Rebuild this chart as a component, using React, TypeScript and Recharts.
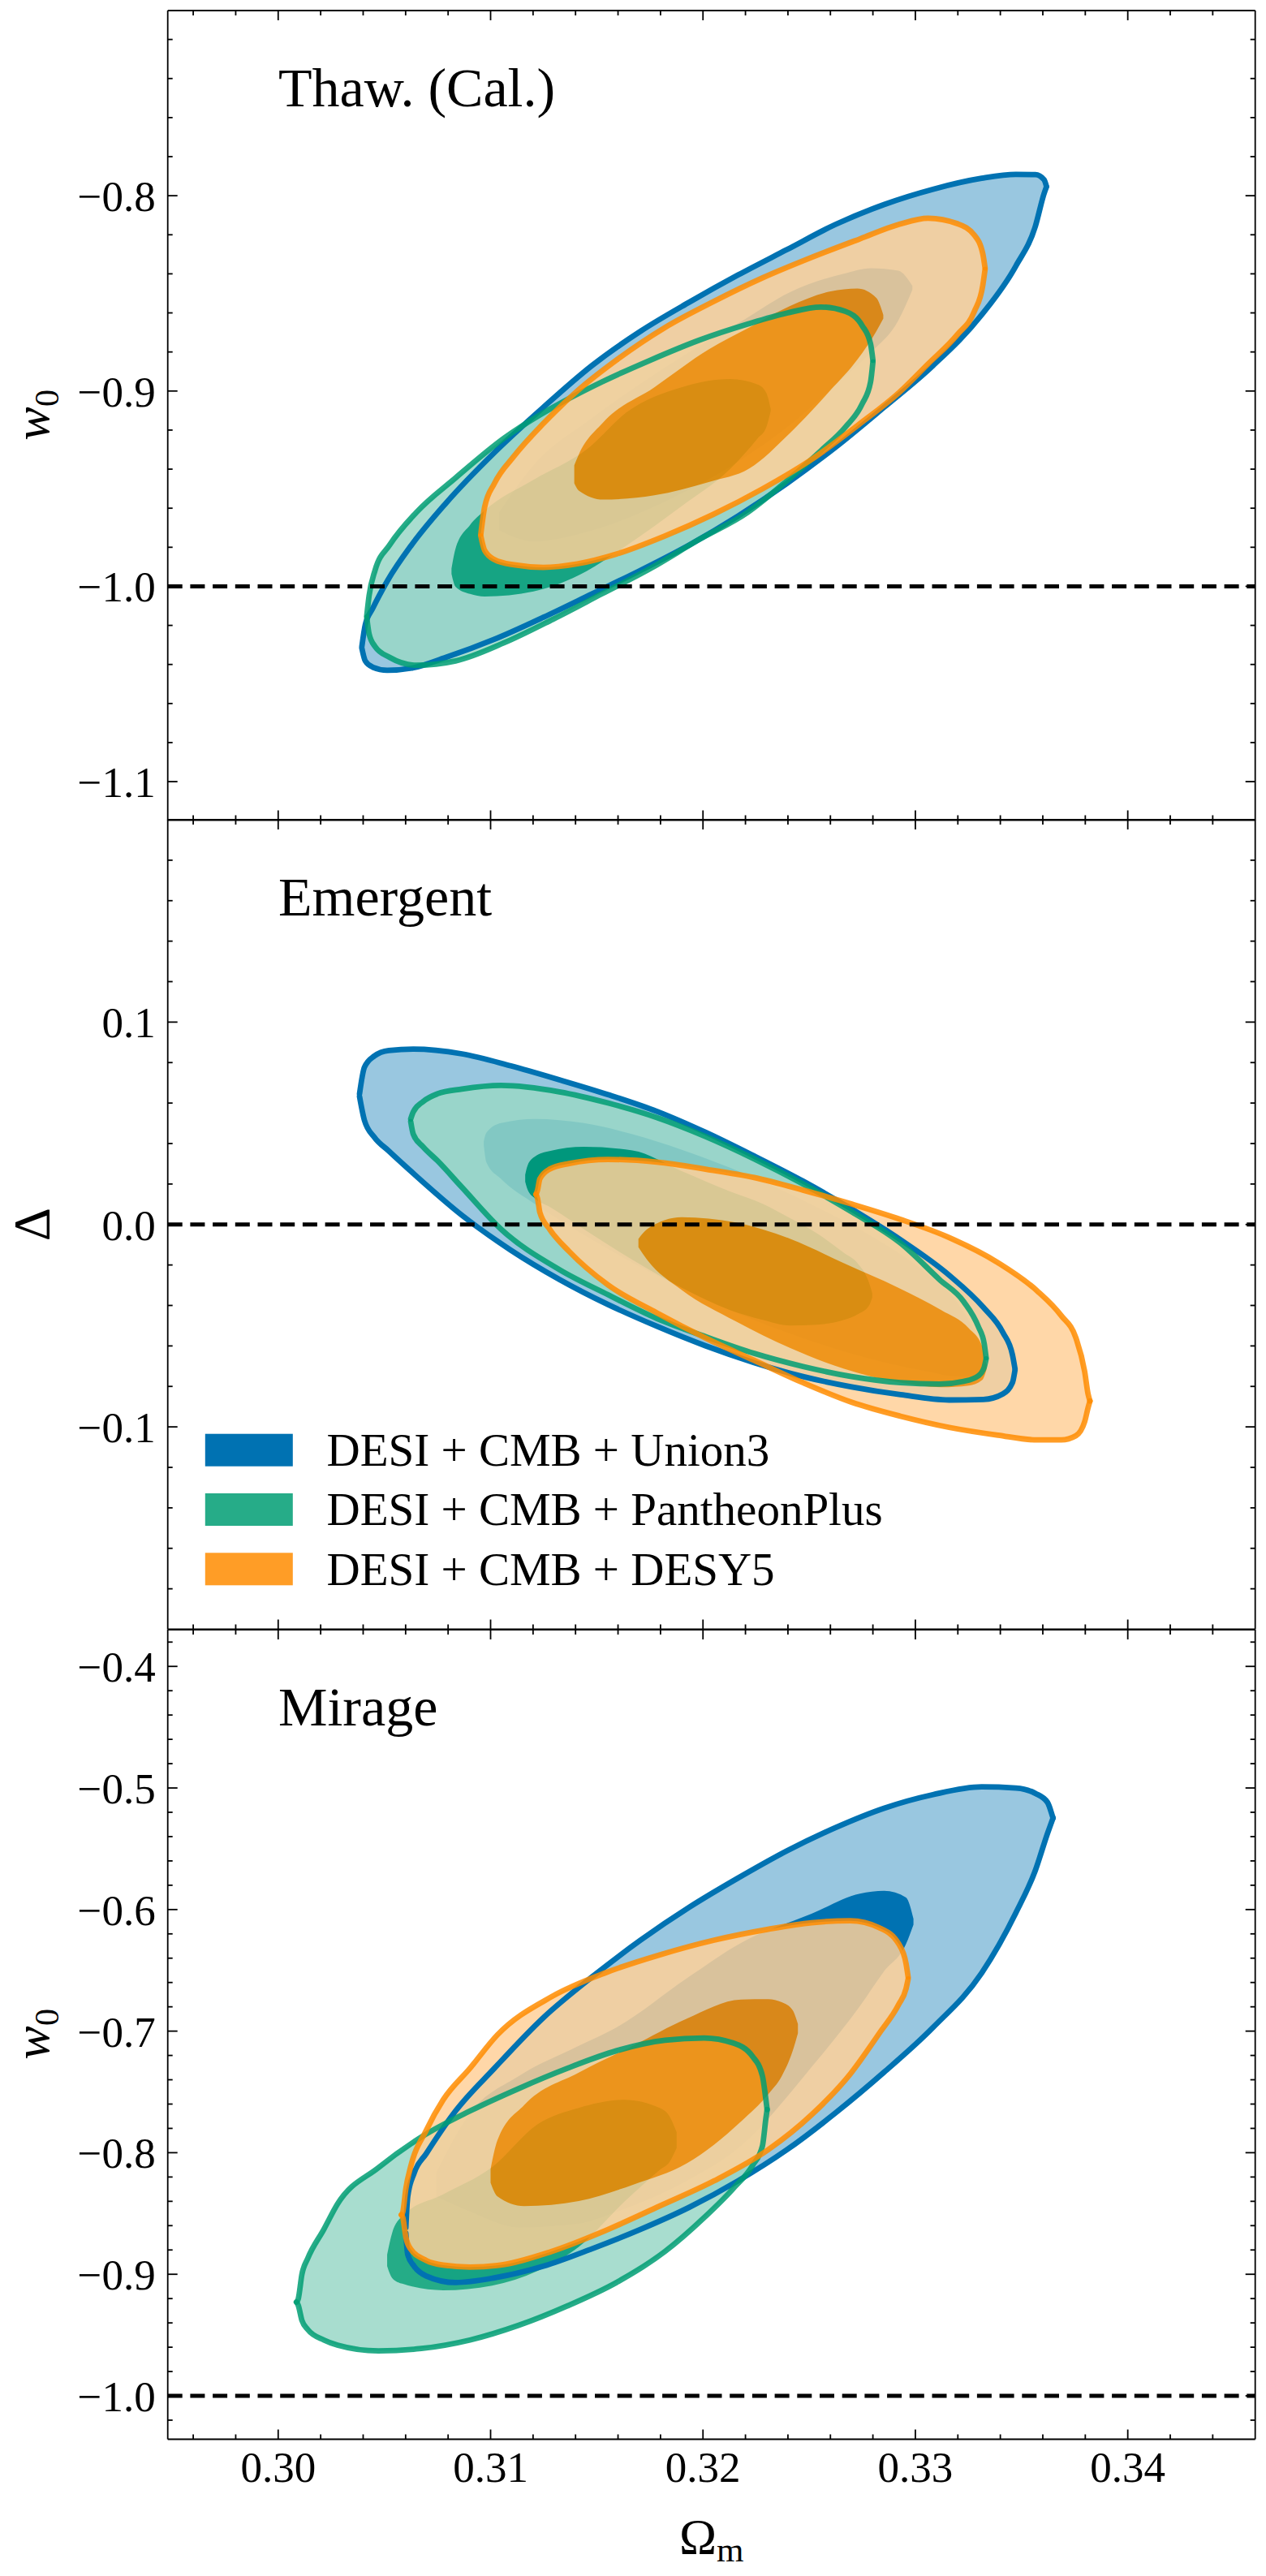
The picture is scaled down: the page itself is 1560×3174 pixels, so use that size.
import React from "react";
import { Area, ComposedChart, ReferenceLine, XAxis, YAxis } from "recharts";

// figure geometry, px
const FIG_W = 1560;
const FIG_H = 3174;
const PLOT_LEFT = 206.7;
const PLOT_RIGHT = 1546.7;
const PANEL_H = 997.5;
const PAD = 12;

const FONT = "'Liberation Serif', 'DejaVu Serif', serif";

const BLUE = "#0072B2";
const BLUE_PALE = "#99c7e0";
const GREEN = "#009E73";
const GREEN_PALE = "#99d8c7";
const ORANGE = "#FF8C00";
const ORANGE_PALE = "#ffd199";

// x axis (shared)
const X_DOMAIN: [number, number] = [0.2948, 0.346];
const X_MAJOR = [0.3, 0.31, 0.32, 0.33, 0.34];

const LEGEND_LABELS = ["DESI + CMB + Union3", "DESI + CMB + PantheonPlus", "DESI + CMB + DESY5"];
const LEGEND_COLORS = [BLUE, GREEN, ORANGE];
const LEGEND_ALPHA = [1, 0.85, 0.85];

// ---------- Thaw. (Cal.) : w0 vs Om ----------
const THAW_U3_OUT_X = [0.30394, 0.3041, 0.30445, 0.30513, 0.30628, 0.30789, 0.31018, 0.31248, 0.31477, 0.31706, 0.31936, 0.32165, 0.32395, 0.32624, 0.32853, 0.33083, 0.33312, 0.33473, 0.33565, 0.33606, 0.33617];
const THAW_U3_OUT_LO = [-1.0317, -1.0382, -1.0414, -1.043, -1.0419, -1.0364, -1.0271, -1.0159, -1.0039, -0.9918, -0.9788, -0.964, -0.9473, -0.9288, -0.9083, -0.887, -0.861, -0.836, -0.8156, -0.7989, -0.7955];
const THAW_U3_OUT_HI = [-1.0308, -1.0197, -1.0113, -0.9974, -0.9788, -0.9575, -0.9315, -0.9084, -0.887, -0.8694, -0.8545, -0.8406, -0.8276, -0.8147, -0.8045, -0.7967, -0.7911, -0.7891, -0.7892, -0.7918, -0.7952];
const THAW_U3_IN_X = [0.31041, 0.31202, 0.31477, 0.31821, 0.32193, 0.32408, 0.32663, 0.32791, 0.3292, 0.32986];
const THAW_U3_IN_LO = [-0.9714, -0.977, -0.9714, -0.9566, -0.9343, -0.9176, -0.8931, -0.8802, -0.8638, -0.8481];
const THAW_U3_IN_HI = [-0.9621, -0.938, -0.9139, -0.8879, -0.8635, -0.8495, -0.8399, -0.8371, -0.8384, -0.8462];

const THAW_PP_OUT_X = [0.30417, 0.30428, 0.30456, 0.30525, 0.30651, 0.30835, 0.31064, 0.31293, 0.31523, 0.31752, 0.31981, 0.32211, 0.32395, 0.32555, 0.3267, 0.3275, 0.32789, 0.328];
const THAW_PP_OUT_LO = [-1.0159, -1.0243, -1.0308, -1.0364, -1.0404, -1.0382, -1.0289, -1.0169, -1.0039, -0.9909, -0.9761, -0.9621, -0.946, -0.9306, -0.9185, -0.9065, -0.8954, -0.8852];
const THAW_PP_OUT_HI = [-1.015, -1.0048, -0.9918, -0.9788, -0.9621, -0.9445, -0.9241, -0.9084, -0.8954, -0.8842, -0.874, -0.8657, -0.8601, -0.857, -0.8592, -0.8666, -0.8759, -0.8842];
const THAW_PP_IN_X = [0.30816, 0.30835, 0.30903, 0.30972, 0.31202, 0.31452, 0.31644, 0.31899, 0.32128, 0.32257, 0.32298, 0.32319];
const THAW_PP_IN_LO = [-0.9937, -1.0002, -1.0039, -1.0052, -1.0026, -0.9922, -0.9788, -0.959, -0.9399, -0.9243, -0.9186, -0.9102];
const THAW_PP_IN_HI = [-0.9909, -0.9807, -0.9686, -0.9612, -0.9455, -0.9299, -0.9106, -0.8981, -0.8939, -0.8967, -0.9009, -0.9091];

const THAW_DES_OUT_X = [0.30954, 0.30972, 0.31018, 0.3111, 0.31248, 0.31408, 0.31592, 0.31821, 0.3205, 0.3228, 0.32509, 0.32739, 0.32922, 0.3306, 0.33197, 0.33278, 0.33317, 0.33328];
const THAW_DES_OUT_LO = [-0.9742, -0.9816, -0.9863, -0.989, -0.9903, -0.9885, -0.9835, -0.9742, -0.9631, -0.9501, -0.9352, -0.9167, -0.9009, -0.8861, -0.8712, -0.8592, -0.8462, -0.8378];
const THAW_DES_OUT_HI = [-0.9733, -0.9594, -0.9473, -0.9334, -0.9167, -0.9, -0.8842, -0.8675, -0.8542, -0.8421, -0.8317, -0.8221, -0.8147, -0.8115, -0.8143, -0.8202, -0.8295, -0.8369];
const THAW_DES_IN_X = [0.31394, 0.31415, 0.3153, 0.31771, 0.32027, 0.32218, 0.32408, 0.32601, 0.32727, 0.32816, 0.32849];
const THAW_DES_IN_LO = [-0.9473, -0.951, -0.9556, -0.9534, -0.9466, -0.9397, -0.9217, -0.8995, -0.8839, -0.8694, -0.8629];
const THAW_DES_IN_HI = [-0.938, -0.9326, -0.9161, -0.8981, -0.8787, -0.8675, -0.8566, -0.849, -0.8475, -0.8523, -0.861];

// ---------- Emergent : Delta vs Om ----------
const EMER_U3_OUT_X = [0.30383, 0.30406, 0.30452, 0.30521, 0.30636, 0.30865, 0.31095, 0.31324, 0.31553, 0.31783, 0.32012, 0.32241, 0.32471, 0.327, 0.3293, 0.33159, 0.3332, 0.33412, 0.33457, 0.33469];
const EMER_U3_OUT_LO = [0.06321, 0.05148, 0.04321, 0.03631, 0.02528, 0.00459, -0.01265, -0.02714, -0.03955, -0.05031, -0.05996, -0.06824, -0.07514, -0.08024, -0.0841, -0.08672, -0.08644, -0.08369, -0.07817, -0.07196];
const EMER_U3_OUT_HI = [0.06459, 0.07769, 0.08321, 0.08597, 0.08666, 0.08431, 0.07838, 0.07148, 0.06417, 0.0559, 0.04555, 0.03383, 0.02142, 0.00762, -0.00755, -0.02507, -0.04093, -0.05334, -0.06438, -0.07127];
const EMER_U3_IN_X = [0.30968, 0.3098, 0.31049, 0.31209, 0.31439, 0.31668, 0.31898, 0.32127, 0.32356, 0.32586, 0.32815, 0.33044, 0.332, 0.3329, 0.3333];
const EMER_U3_IN_LO = [0.03907, 0.0308, 0.02252, 0.01011, -0.00507, -0.01886, -0.03127, -0.04231, -0.05196, -0.06024, -0.06714, -0.0724, -0.0752, -0.0745, -0.0705];
const EMER_U3_IN_HI = [0.04114, 0.04528, 0.0501, 0.05217, 0.0501, 0.04459, 0.037, 0.02804, 0.01769, 0.00597, -0.00714, -0.0235, -0.039, -0.056, -0.068];

const EMER_PP_OUT_X = [0.30624, 0.30636, 0.30682, 0.3075, 0.30865, 0.31049, 0.31324, 0.31553, 0.31783, 0.32012, 0.32241, 0.32471, 0.327, 0.3293, 0.33113, 0.33228, 0.33297, 0.33324, 0.33333];
const EMER_PP_OUT_LO = [0.0508, 0.04459, 0.03838, 0.03149, 0.01838, -0.00231, -0.02231, -0.03472, -0.04645, -0.05541, -0.06369, -0.07017, -0.07514, -0.07817, -0.07886, -0.07748, -0.07472, -0.07058, -0.06645];
const EMER_PP_OUT_HI = [0.05217, 0.05562, 0.06073, 0.06459, 0.06693, 0.06873, 0.06555, 0.06004, 0.05286, 0.04349, 0.03245, 0.02004, 0.00624, -0.0092, -0.02714, -0.03817, -0.05058, -0.05886, -0.06576];
const EMER_PP_IN_X = [0.31163, 0.31175, 0.31209, 0.31278, 0.31439, 0.31668, 0.319, 0.32127, 0.32281, 0.32409, 0.32537, 0.32664, 0.32728, 0.32781, 0.32797];
const EMER_PP_IN_LO = [0.02114, 0.017, 0.01287, 0.00873, -0.00231, -0.01748, -0.03127, -0.04231, -0.04714, -0.04989, -0.04948, -0.04714, -0.04438, -0.04024, -0.0361];
const EMER_PP_IN_HI = [0.02459, 0.02941, 0.03355, 0.03631, 0.03838, 0.03659, 0.02638, 0.01631, 0.01024, 0.00321, -0.00438, -0.01403, -0.01914, -0.02852, -0.03403];

const EMER_DES_OUT_X = [0.31214, 0.31221, 0.31232, 0.31278, 0.3137, 0.31553, 0.31783, 0.32012, 0.32241, 0.32471, 0.327, 0.3293, 0.33159, 0.33389, 0.33572, 0.33687, 0.33756, 0.33797, 0.33813, 0.33822];
const EMER_DES_OUT_LO = [0.0149, 0.01287, 0.00597, -0.00231, -0.01334, -0.0299, -0.04369, -0.0561, -0.06714, -0.07817, -0.08782, -0.09472, -0.10024, -0.1041, -0.10645, -0.10645, -0.10438, -0.09748, -0.09058, -0.0872];
const EMER_DES_OUT_HI = [0.0149, 0.017, 0.02252, 0.02735, 0.03011, 0.03217, 0.0308, 0.02735, 0.02321, 0.017, 0.01011, 0.00252, -0.00645, -0.01886, -0.03265, -0.04507, -0.0561, -0.07265, -0.08369, -0.0872];
const EMER_DES_IN_X = [0.31696, 0.31737, 0.319, 0.32154, 0.32409, 0.32664, 0.32918, 0.33122, 0.33251, 0.33315, 0.33336];
const EMER_DES_IN_LO = [-0.01127, -0.01748, -0.03238, -0.04783, -0.06093, -0.07127, -0.07789, -0.08038, -0.07955, -0.07679, -0.07127];
const EMER_DES_IN_HI = [-0.00714, -0.00231, 0.00362, 0.001, -0.007, -0.01914, -0.03114, -0.04231, -0.05127, -0.06024, -0.06989];

// ---------- Mirage : w0 vs Om ----------
const MIR_U3_OUT_X = [0.30601, 0.3061, 0.3064, 0.30697, 0.30835, 0.31018, 0.31248, 0.31477, 0.31706, 0.31936, 0.32165, 0.32395, 0.32624, 0.32853, 0.33083, 0.33312, 0.33473, 0.33565, 0.33622, 0.33645, 0.33648];
const MIR_U3_OUT_LO = [-0.86625, -0.88382, -0.89339, -0.90137, -0.9068, -0.90297, -0.89339, -0.87903, -0.86306, -0.84486, -0.82315, -0.7976, -0.76728, -0.73374, -0.69702, -0.65232, -0.60283, -0.56771, -0.53737, -0.5262, -0.5247];
const MIR_U3_OUT_HI = [-0.86146, -0.83592, -0.81676, -0.8008, -0.76568, -0.73055, -0.68904, -0.65552, -0.62518, -0.59805, -0.5741, -0.55174, -0.53259, -0.51662, -0.50545, -0.49906, -0.50002, -0.50449, -0.51183, -0.52301, -0.5247];
const MIR_U3_IN_X = [0.30743, 0.30903, 0.31133, 0.31415, 0.31592, 0.31924, 0.32179, 0.32511, 0.32739, 0.32853, 0.32956, 0.32991];
const MIR_U3_IN_LO = [-0.83592, -0.84827, -0.86146, -0.85827, -0.84869, -0.82315, -0.79441, -0.72959, -0.67946, -0.65073, -0.62838, -0.61241];
const MIR_U3_IN_HI = [-0.81676, -0.76759, -0.73694, -0.71203, -0.69702, -0.65648, -0.62742, -0.60347, -0.58687, -0.58463, -0.59006, -0.60762];

const MIR_PP_OUT_X = [0.30086, 0.30094, 0.30112, 0.30139, 0.30215, 0.30279, 0.30472, 0.30674, 0.30903, 0.31133, 0.31362, 0.31592, 0.31821, 0.32005, 0.32142, 0.32234, 0.3228, 0.32296, 0.32302];
const MIR_PP_OUT_LO = [-0.9229, -0.92532, -0.93809, -0.94543, -0.95405, -0.9582, -0.96299, -0.96108, -0.95405, -0.94192, -0.92596, -0.9068, -0.88126, -0.85348, -0.82954, -0.81038, -0.79441, -0.77206, -0.7645];
const MIR_PP_OUT_HI = [-0.9229, -0.92053, -0.89978, -0.88701, -0.86306, -0.84231, -0.81229, -0.78707, -0.76568, -0.74716, -0.73055, -0.71618, -0.70756, -0.70564, -0.70979, -0.72097, -0.73694, -0.7561, -0.7645];
const MIR_PP_IN_X = [0.30513, 0.30536, 0.30584, 0.30777, 0.31007, 0.31222, 0.31415, 0.31631, 0.31796, 0.31844, 0.31876];
const MIR_PP_IN_LO = [-0.89339, -0.90297, -0.90776, -0.91319, -0.90936, -0.89722, -0.87743, -0.84007, -0.81421, -0.80718, -0.79601];
const MIR_PP_IN_HI = [-0.88382, -0.86625, -0.8522, -0.83433, -0.81197, -0.77653, -0.76313, -0.75642, -0.76313, -0.77047, -0.78324];

const MIR_DES_OUT_X = [0.3058, 0.30587, 0.30601, 0.30623, 0.30697, 0.30777, 0.30903, 0.31032, 0.31286, 0.31541, 0.31796, 0.32053, 0.32307, 0.32511, 0.32693, 0.3283, 0.32922, 0.32956, 0.32966];
const MIR_DES_OUT_LO = [-0.8511, -0.85348, -0.86945, -0.87903, -0.8886, -0.89244, -0.89403, -0.89275, -0.88126, -0.86402, -0.8439, -0.82315, -0.7976, -0.76887, -0.73534, -0.70181, -0.67787, -0.6651, -0.65711];
const MIR_DES_OUT_HI = [-0.8511, -0.84869, -0.82954, -0.81197, -0.78164, -0.75642, -0.73055, -0.70309, -0.6718, -0.65201, -0.63732, -0.62518, -0.61624, -0.61081, -0.60922, -0.61497, -0.62838, -0.64434, -0.65552];
const MIR_DES_IN_X = [0.31, 0.31032, 0.31158, 0.31415, 0.3167, 0.31924, 0.32179, 0.32307, 0.32371, 0.32422, 0.32447];
const MIR_DES_IN_LO = [-0.82475, -0.83592, -0.8439, -0.83975, -0.82634, -0.80878, -0.7743, -0.75195, -0.73694, -0.7165, -0.70181];
const MIR_DES_IN_HI = [-0.81357, -0.78994, -0.76089, -0.73406, -0.71203, -0.68968, -0.67404, -0.67372, -0.67627, -0.68266, -0.69415];

// helpers
function tickRange(from: number, to: number, step: number) {
  const n = Math.round((to - from) / step);
  return Array.from({ length: n + 1 }, (_, i) => +(from + i * step).toFixed(4));
}
const X_TICKS = tickRange(0.296, 0.344, 0.002);

const rows = (x: number[], lo: number[], hi: number[]) => x.map((v, i) => ({ x: v, r: [lo[i], hi[i]] }));
const isMajor = (v: number, majors: number[]) => majors.some((m) => Math.abs(m - v) < 1e-6);
const fmt = (v: number, d: number) => (v < -1e-9 ? "\u2212" : "") + Math.abs(v).toFixed(d);

const AXIS_LINE = { stroke: "#000", strokeWidth: 1.8 };

const PANELS = [
  {
    key: "thaw",
    top: 12.5,
    padBottom: PAD,
    yDomain: [-1.1197, -0.7052],
    yTicks: tickRange(-1.1, -0.72, 0.02),
    yMajor: [-1.1, -1.0, -0.9, -0.8],
    refY: -1,
    xLabels: false,
    u3: [rows(THAW_U3_OUT_X, THAW_U3_OUT_LO, THAW_U3_OUT_HI), rows(THAW_U3_IN_X, THAW_U3_IN_LO, THAW_U3_IN_HI)],
    pp: [rows(THAW_PP_OUT_X, THAW_PP_OUT_LO, THAW_PP_OUT_HI), rows(THAW_PP_IN_X, THAW_PP_IN_LO, THAW_PP_IN_HI)],
    des: [rows(THAW_DES_OUT_X, THAW_DES_OUT_LO, THAW_DES_OUT_HI), rows(THAW_DES_IN_X, THAW_DES_IN_LO, THAW_DES_IN_HI)],
  },
  {
    key: "emer",
    top: 1010,
    padBottom: PAD,
    yDomain: [-0.2, 0.2],
    yTicks: tickRange(-0.18, 0.18, 0.02),
    yMajor: [-0.1, 0, 0.1],
    refY: 0,
    xLabels: false,
    u3: [rows(EMER_U3_OUT_X, EMER_U3_OUT_LO, EMER_U3_OUT_HI), rows(EMER_U3_IN_X, EMER_U3_IN_LO, EMER_U3_IN_HI)],
    pp: [rows(EMER_PP_OUT_X, EMER_PP_OUT_LO, EMER_PP_OUT_HI), rows(EMER_PP_IN_X, EMER_PP_IN_LO, EMER_PP_IN_HI)],
    des: [rows(EMER_DES_OUT_X, EMER_DES_OUT_LO, EMER_DES_OUT_HI), rows(EMER_DES_IN_X, EMER_DES_IN_LO, EMER_DES_IN_HI)],
  },
  {
    key: "mir",
    top: 2007.5,
    padBottom: 70,
    yDomain: [-1.0357, -0.3698],
    yTicks: tickRange(-1.02, -0.38, 0.02),
    yMajor: [-1.0, -0.9, -0.8, -0.7, -0.6, -0.5, -0.4],
    refY: -1,
    xLabels: true,
    u3: [rows(MIR_U3_OUT_X, MIR_U3_OUT_LO, MIR_U3_OUT_HI), rows(MIR_U3_IN_X, MIR_U3_IN_LO, MIR_U3_IN_HI)],
    pp: [rows(MIR_PP_OUT_X, MIR_PP_OUT_LO, MIR_PP_OUT_HI), rows(MIR_PP_IN_X, MIR_PP_IN_LO, MIR_PP_IN_HI)],
    des: [rows(MIR_DES_OUT_X, MIR_DES_OUT_LO, MIR_DES_OUT_HI), rows(MIR_DES_IN_X, MIR_DES_IN_LO, MIR_DES_IN_HI)],
  },
];

function makeTick(side: string, majors: number[], label: ((v: number) => string) | null) {
  return (props: any) => {
    const { x, y, payload } = props;
    const v = payload.value;
    const major = isMajor(v, majors);
    const len = major ? 12 : 6;
    let l = { x1: x, y1: y, x2: x, y2: y };
    if (side === "left") l = { x1: x, y1: y, x2: x + len, y2: y };
    if (side === "right") l = { x1: x, y1: y, x2: x - len, y2: y };
    if (side === "top") l = { x1: x, y1: y, x2: x, y2: y + len };
    if (side === "bottom") l = { x1: x, y1: y, x2: x, y2: y - len };
    return (
      <g>
        <line {...l} stroke="#000" strokeWidth={1.8} />
        {major && label && side === "left" ? (
          <text x={x - 15} y={y + 19} textAnchor="end" fontFamily={FONT} fontSize={53} fill="#000">
            {label(v)}
          </text>
        ) : null}
        {major && label && side === "bottom" ? (
          <text x={x} y={y + 52} textAnchor="middle" fontFamily={FONT} fontSize={53} fill="#000">
            {label(v)}
          </text>
        ) : null}
      </g>
    );
  };
}

function axes(p: any, visible: boolean) {
  const common = {
    type: "number" as const,
    allowDataOverflow: true,
    interval: 0 as const,
    tickSize: 0,
    tickMargin: 0,
    tickLine: false,
    axisLine: visible ? AXIS_LINE : false,
  };
  return [
    <XAxis key="xb" xAxisId="b" orientation="bottom" dataKey="x" domain={X_DOMAIN} ticks={X_TICKS} height={1}
      tick={visible ? makeTick("bottom", X_MAJOR, p.xLabels ? (v: number) => fmt(v, 2) : null) : false} {...common} />,
    <XAxis key="xt" xAxisId="t" orientation="top" dataKey="x" domain={X_DOMAIN} ticks={X_TICKS} height={1}
      tick={visible ? makeTick("top", X_MAJOR, null) : false} {...common} />,
    <YAxis key="yl" yAxisId="l" orientation="left" domain={p.yDomain} ticks={p.yTicks} width={1}
      tick={visible ? makeTick("left", p.yMajor, (v: number) => fmt(v, 1)) : false} {...common} />,
    <YAxis key="yr" yAxisId="r" orientation="right" domain={p.yDomain} ticks={p.yTicks} width={1}
      tick={visible ? makeTick("right", p.yMajor, null) : false} {...common} />,
  ];
}

function fillArea(key: string, data: any[], color: string) {
  return (
    <Area key={key} xAxisId="b" yAxisId="l" data={data} dataKey="r" type="monotone" fill={color} fillOpacity={1}
      stroke="none" dot={false} activeDot={false} isAnimationActive={false} />
  );
}

function lineArea(key: string, data: any[], color: string, alpha: number) {
  return (
    <Area key={key} xAxisId="b" yAxisId="l" data={data} dataKey="r" type="monotone" fill="none" stroke={color}
      strokeWidth={6.8} strokeOpacity={alpha} strokeLinejoin="round" strokeLinecap="round"
      dot={false} activeDot={false} isAnimationActive={false} />
  );
}

function ChartLayer({ p, opacity, visibleAxes, children }: any) {
  const h = PAD + PANEL_H + p.padBottom;
  return (
    <div style={{ position: "absolute", left: 0, top: p.top - PAD, width: FIG_W, height: h, opacity }}>
      <ComposedChart
        width={FIG_W}
        height={h}
        margin={{ top: PAD - 1, bottom: p.padBottom - 1, left: PLOT_LEFT - 1, right: FIG_W - PLOT_RIGHT - 1 }}
      >
        {axes(p, visibleAxes)}
        {children}
      </ComposedChart>
    </div>
  );
}

// each data set is composited as one group (pale 2-sigma band + solid 1-sigma core)
function Panel({ p }: any) {
  return (
    <>
      <ChartLayer p={p} opacity={1} visibleAxes>
        {fillArea("u3o", p.u3[0], BLUE_PALE)}
        {fillArea("u3i", p.u3[1], BLUE)}
      </ChartLayer>
      <ChartLayer p={p} opacity={0.85} visibleAxes={false}>
        {fillArea("ppo", p.pp[0], GREEN_PALE)}
        {fillArea("ppi", p.pp[1], GREEN)}
      </ChartLayer>
      <ChartLayer p={p} opacity={0.85} visibleAxes={false}>
        {fillArea("deso", p.des[0], ORANGE_PALE)}
        {fillArea("desi", p.des[1], ORANGE)}
      </ChartLayer>
      <ChartLayer p={p} opacity={1} visibleAxes={false}>
        {lineArea("u3l", p.u3[0], BLUE, 1)}
        {lineArea("ppl", p.pp[0], GREEN, 0.85)}
        {lineArea("desl", p.des[0], ORANGE, 0.85)}
        <ReferenceLine xAxisId="b" yAxisId="l" y={p.refY} stroke="#000" strokeWidth={5} strokeDasharray="18 9.7" />
      </ChartLayer>
    </>
  );
}

const TITLES = ["Thaw. (Cal.)", "Emergent", "Mirage"];

export default function App() {
  const centers = PANELS.map((p) => p.top + PANEL_H / 2);
  return (
    <div style={{ position: "relative", width: FIG_W, height: FIG_H, background: "#fff", overflow: "hidden" }}>
      <style>{"body{margin:0;}"}</style>
      {PANELS.map((p) => (
        <Panel key={p.key} p={p} />
      ))}
      <svg width={FIG_W} height={FIG_H} style={{ position: "absolute", left: 0, top: 0, pointerEvents: "none" }}>
        {PANELS.map((p, i) => (
          <text key={p.key} x={343} y={p.top + 118} fontFamily={FONT} fontSize={68} fill="#000">
            {TITLES[i]}
          </text>
        ))}
        <text transform={`translate(60, ${centers[0]}) rotate(-90)`} textAnchor="middle" fontFamily={FONT} fontSize={62} fill="#000">
          <tspan fontStyle="italic">w</tspan>
          <tspan fontSize={43} dy={12}>0</tspan>
        </text>
        <text transform={`translate(61, ${centers[1]}) rotate(-90)`} textAnchor="middle" fontFamily={FONT} fontSize={64} fill="#000">
          Δ
        </text>
        <text transform={`translate(60, ${centers[2]}) rotate(-90)`} textAnchor="middle" fontFamily={FONT} fontSize={62} fill="#000">
          <tspan fontStyle="italic">w</tspan>
          <tspan fontSize={43} dy={12}>0</tspan>
        </text>
        <text x={(PLOT_LEFT + PLOT_RIGHT) / 2} y={3146} textAnchor="middle" fontFamily={FONT} fontSize={62} fill="#000">
          Ω<tspan fontSize={43} dy={10}>m</tspan>
        </text>
        {LEGEND_LABELS.map((lab, i) => (
          <g key={lab}>
            <rect x={252.8} y={1766.7 + i * 73.3} width={108} height={40} fill={LEGEND_COLORS[i]} fillOpacity={LEGEND_ALPHA[i]} />
            <text x={402.6} y={1806 + i * 73.3} fontFamily={FONT} fontSize={57} fill="#000">
              {lab}
            </text>
          </g>
        ))}
      </svg>
    </div>
  );
}
